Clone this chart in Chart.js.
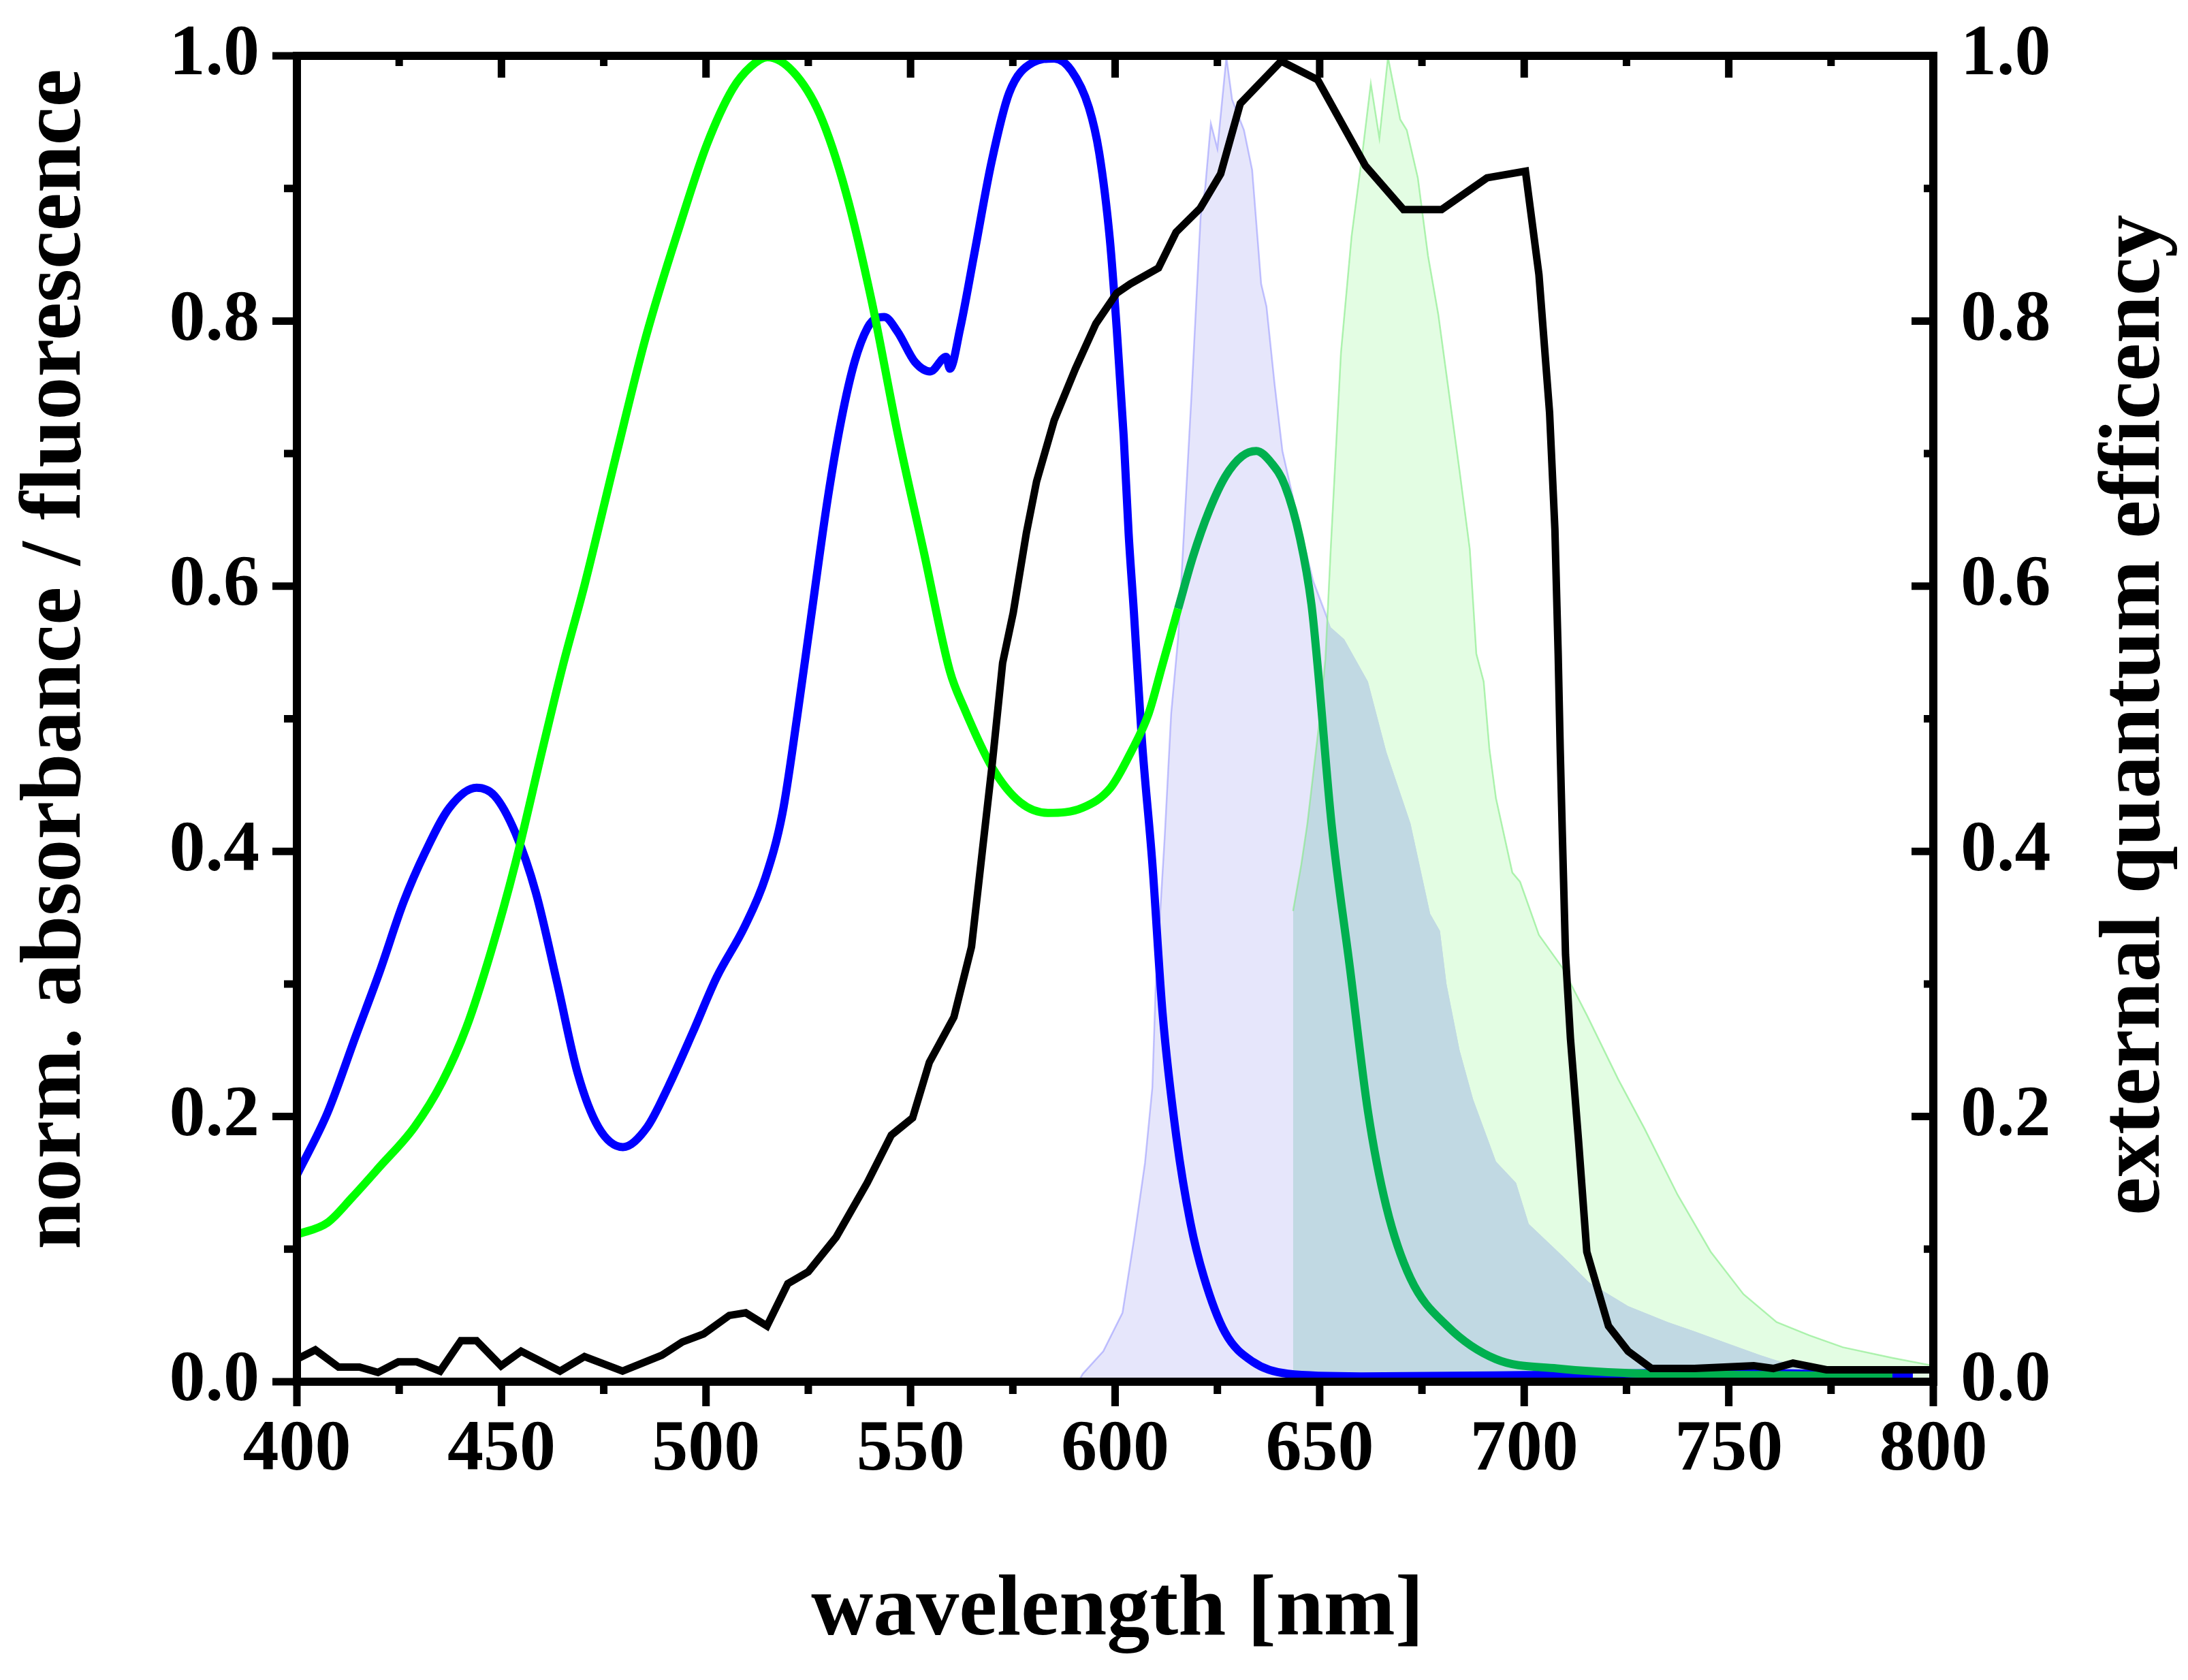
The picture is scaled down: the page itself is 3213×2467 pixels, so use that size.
<!DOCTYPE html>
<html>
<head>
    <meta charset="utf-8">
    <title>Absorbance / fluorescence / EQE</title>
    <script src="https://cdn.jsdelivr.net/npm/chart.js"></script>
    <style>
        html, body { margin: 0; padding: 0; background: #fff; }
        #wrap { width: 3213px; height: 2467px; position: relative; }
    </style>
</head>
<body>
    <div id="wrap"><canvas id="spectra"></canvas></div>
    <script>
        // [wavelength nm, value] pairs
        var eqeBlack = [[400,0.017],[404.5,0.024],[410.2,0.011],[415.3,0.011],[419.8,0.007],[424.8,0.015],[429.3,0.015],[435,0.008],[440.1,0.031],[443.9,0.031],[449.9,0.012],[454.8,0.023],[464.3,0.008],[470.3,0.019],[479.6,0.008],[489.2,0.02],[494.2,0.03],[499.4,0.036],[505.7,0.05],[509.7,0.052],[514.9,0.042],[520,0.074],[525,0.083],[531.8,0.109],[539.4,0.15],[545.3,0.186],[550.5,0.199],[554.6,0.241],[560.6,0.275],[564.9,0.328],[567.5,0.399],[570,0.467],[572.5,0.542],[575.1,0.58],[578.3,0.64],[580.8,0.679],[585.1,0.725],[590.3,0.764],[595.3,0.798],[600.4,0.821],[603.7,0.828],[610.6,0.84],[614.9,0.867],[620.8,0.885],[625.8,0.911],[630.6,0.964],[640.6,0.996],[649.5,0.982],[661.2,0.917],[670.5,0.884],[679.8,0.884],[690.9,0.908],[700.3,0.913],[703.6,0.835],[706.2,0.731],[707.5,0.643],[708.3,0.549],[708.8,0.477],[709.3,0.415],[710.1,0.322],[711.3,0.259],[713.3,0.181],[715.3,0.098],[720.6,0.042],[725.4,0.023],[731.1,0.01],[741.6,0.01],[756.1,0.012],[760.9,0.01],[765.7,0.014],[773.9,0.009],[800,0.009]];

        var absBlue = [[400,0.156],[407.5,0.203],[414.3,0.26],[420.2,0.309],[426.1,0.362],[431.3,0.399],[437.3,0.433],[443.9,0.448],[448.3,0.442],[453.4,0.414],[458.4,0.369],[463.6,0.301],[468.6,0.233],[473.7,0.192],[479.7,0.177],[485.6,0.192],[490.7,0.222],[496.7,0.263],[502.6,0.305],[509.4,0.343],[514.5,0.38],[518.7,0.429],[522.3,0.502],[525.6,0.575],[529.8,0.667],[533.1,0.726],[536.3,0.769],[539.5,0.795],[541.6,0.802],[543.6,0.803],[546.8,0.792],[551.1,0.769],[554.8,0.762],[558.7,0.773],[559.6,0.764],[562.1,0.794],[565.6,0.851],[569.8,0.92],[574.1,0.972],[579.9,0.995],[585.1,0.998],[589.3,0.989],[593.6,0.961],[596.1,0.927],[598.7,0.862],[600.4,0.794],[602.1,0.713],[603.3,0.64],[604.6,0.58],[606.5,0.486],[609.1,0.391],[611.6,0.278],[615,0.184],[618.4,0.12],[621.7,0.079],[626.9,0.037],[633.7,0.015],[642.2,0.006],[660,0.004],[700,0.005],[750,0.007],[770,0.006],[795,0.005]];

        var absGreen = [[400,0.111],[407.5,0.12],[413.5,0.139],[420.2,0.162],[428.7,0.192],[435.5,0.226],[441.4,0.267],[447.4,0.324],[453.4,0.391],[460.1,0.478],[465,0.54],[470.4,0.602],[477.9,0.697],[485.3,0.788],[493.8,0.874],[500.2,0.933],[506.5,0.975],[511,0.992],[515,0.999],[521.3,0.988],[527.8,0.956],[534.2,0.897],[540.5,0.815],[546.8,0.716],[553.3,0.625],[559.6,0.536],[563.1,0.508],[570,0.463],[576.8,0.437],[583.6,0.429],[592.1,0.433],[598.9,0.448],[603.9,0.475],[608.2,0.504],[611.5,0.54],[615.4,0.583]];

        var absGreenDark = [[615.4,0.583],[619,0.622],[623,0.657],[627,0.683],[631,0.698],[634.5,0.702],[638.2,0.693],[641.5,0.676],[645.2,0.636],[648,0.586],[649.5,0.54],[652.9,0.421],[657.4,0.312],[661.8,0.204],[666.3,0.132],[672.2,0.078],[681.2,0.042],[693.1,0.017],[708,0.01],[730,0.006],[760,0.005],[790,0.004]];

        var emBlue = [[591,0],[592.1,0.006],[597.1,0.023],[601.8,0.052],[604.7,0.109],[607.3,0.165],[609.1,0.222],[609.9,0.297],[612.1,0.41],[613.7,0.504],[615.4,0.561],[618.7,0.746],[620.9,0.879],[622,0.9],[623.4,0.949],[625,0.93],[627.2,0.999],[628.6,0.967],[631.5,0.944],[633.5,0.914],[635.7,0.828],[637,0.811],[639,0.752],[640.9,0.702],[644.2,0.657],[648.4,0.604],[652.7,0.569],[656,0.56],[661.8,0.528],[666.3,0.475],[672.2,0.421],[677,0.353],[679.4,0.34],[681,0.3],[684.2,0.25],[687.5,0.213],[693.1,0.166],[698,0.15],[701.1,0.119],[709.3,0.095],[715.8,0.075],[725.4,0.057],[735.1,0.045],[741.6,0.038],[749.6,0.029],[757.7,0.02],[761.7,0.016],[769.7,0.01],[780,0.006],[790,0.003],[800,0.002]];

        var emGreen = [[643.5,0.355],[645.5,0.39],[647,0.421],[650,0.5],[651.4,0.545],[652.7,0.628],[655.2,0.776],[657.8,0.864],[660.3,0.923],[662.5,0.979],[664.6,0.938],[666.7,0.999],[669.7,0.952],[671.3,0.944],[674,0.908],[676.5,0.849],[679,0.805],[681.6,0.746],[684.2,0.687],[686.7,0.628],[688.3,0.549],[690.1,0.528],[691.5,0.477],[693.1,0.44],[697.1,0.384],[699,0.377],[703.6,0.337],[709.4,0.312],[715.4,0.276],[723,0.228],[729.4,0.191],[737.5,0.141],[745.6,0.098],[753.6,0.066],[761.7,0.045],[769.7,0.035],[777.9,0.026],[790,0.018],[800,0.012]];

        var xTickValues = [400, 450, 500, 550, 600, 650, 700, 750, 800];
        var xMinorValues = [425, 475, 525, 575, 625, 675, 725, 775];
        var yTickValues = [0, 0.2, 0.4, 0.6, 0.8, 1.0];
        var yMinorValues = [0.1, 0.3, 0.5, 0.7, 0.9];

        var xTitle = 'wavelength [nm]';
        var yTitle = 'norm. absorbance / fluorescence';
        var y2Title = 'external quantum efficency';

        var FONT = '"Liberation Serif", "Times New Roman", serif';

        function pts(arr) {
            return arr.map(function(p) { return {x: p[0], y: p[1]}; });
        }

        // frame, Origin-style ticks (out on left/bottom, in on top/right) and axis titles
        var framePlugin = {
            id: 'frame',
            afterDraw: function(chart) {
                var ctx = chart.ctx;
                var a = chart.chartArea;
                var sx = chart.scales.x, sy = chart.scales.y;
                ctx.save();
                ctx.strokeStyle = '#000';
                ctx.lineCap = 'butt';
                ctx.lineWidth = 11;
                ctx.beginPath();
                xTickValues.forEach(function(v) {
                    var px = sx.getPixelForValue(v);
                    ctx.moveTo(px, a.bottom); ctx.lineTo(px, a.bottom + 36);
                    ctx.moveTo(px, a.top); ctx.lineTo(px, a.top + 32);
                });
                xMinorValues.forEach(function(v) {
                    var px = sx.getPixelForValue(v);
                    ctx.moveTo(px, a.bottom); ctx.lineTo(px, a.bottom + 18);
                    ctx.moveTo(px, a.top); ctx.lineTo(px, a.top + 15);
                });
                yTickValues.forEach(function(v) {
                    var py = sy.getPixelForValue(v);
                    ctx.moveTo(a.left, py); ctx.lineTo(a.left - 36, py);
                    ctx.moveTo(a.right, py); ctx.lineTo(a.right - 32, py);
                });
                yMinorValues.forEach(function(v) {
                    var py = sy.getPixelForValue(v);
                    ctx.moveTo(a.left, py); ctx.lineTo(a.left - 19, py);
                    ctx.moveTo(a.right, py); ctx.lineTo(a.right - 14, py);
                });
                ctx.stroke();
                ctx.lineJoin = 'miter';
                ctx.lineWidth = 12;
                ctx.strokeRect(a.left, a.top, a.right - a.left, a.bottom - a.top);

                ctx.fillStyle = '#000';
                ctx.font = 'bold 126px ' + FONT;
                ctx.textAlign = 'center';
                ctx.textBaseline = 'middle';
                ctx.fillText(xTitle, 1641, 2367);
                ctx.save();
                ctx.translate(84, 968);
                ctx.rotate(-Math.PI / 2);
                ctx.fillText(yTitle, 0, 0);
                ctx.restore();
                ctx.save();
                ctx.translate(3137, 1050);
                ctx.rotate(-Math.PI / 2);
                ctx.fillText(y2Title, 0, 0);
                ctx.restore();
                ctx.restore();
            }
        };

        function tickLabel(v) { return Number(v).toFixed(1); }

        var ctx = document.getElementById('spectra').getContext('2d');
        var spectraChart = new Chart(ctx, {
            type: 'line',
            data: {
                datasets: [
                    { label: 'EQE', data: pts(eqeBlack), yAxisID: 'y2', borderColor: '#000000', borderWidth: 11, tension: 0, fill: false },
                    { label: 'absorbance green', data: pts(absGreen), yAxisID: 'y', borderColor: '#00ff00', borderWidth: 12, cubicInterpolationMode: 'monotone', fill: false },
                    { label: 'absorbance green (under emission)', data: pts(absGreenDark), yAxisID: 'y', borderColor: '#00b04f', borderWidth: 12, cubicInterpolationMode: 'monotone', fill: false },
                    { label: 'absorbance blue', data: pts(absBlue), yAxisID: 'y', borderColor: '#0000ff', borderWidth: 12, cubicInterpolationMode: 'monotone', fill: false },
                    { label: 'fluorescence green', data: pts(emGreen), yAxisID: 'y', borderColor: 'rgba(120,235,120,0.55)', borderWidth: 2.5, tension: 0,
                      fill: { target: 6, above: '#e3fde3', below: 'rgba(0,0,0,0)' } },
                    { label: 'fluorescence overlap', data: pts(emGreen), yAxisID: 'y', borderColor: 'rgba(0,0,0,0)', borderWidth: 0, tension: 0,
                      fill: 'origin', backgroundColor: '#c1d9e3' },
                    { label: 'fluorescence blue', data: pts(emBlue), yAxisID: 'y', borderColor: 'rgba(110,110,255,0.4)', borderWidth: 2.5, tension: 0,
                      fill: 'origin', backgroundColor: '#e6e6fb' }
                ]
            },
            options: {
                responsive: true,
                maintainAspectRatio: false,
                devicePixelRatio: 1,
                animation: false,
                elements: { point: { radius: 0, hoverRadius: 0 } },
                layout: { padding: { top: 82, left: 0, right: 0, bottom: 0 } },
                plugins: {
                    legend: { display: false },
                    tooltip: { enabled: false }
                },
                scales: {
                    x: {
                        type: 'linear', min: 400, max: 800,
                        grid: { display: false, drawTicks: false },
                        border: { display: false },
                        afterBuildTicks: function(s) { s.ticks = xTickValues.map(function(v) { return {value: v}; }); },
                        afterFit: function(s) { s.height = 438; },
                        ticks: { color: '#000', padding: 38, maxRotation: 0, autoSkip: false,
                                 font: { family: FONT, size: 106, weight: 'bold' },
                                 callback: function(v) { return String(v); } }
                    },
                    y: {
                        position: 'left', min: 0, max: 1,
                        grid: { display: false, drawTicks: true, tickLength: 55 },
                        border: { display: false },
                        afterBuildTicks: function(s) { s.ticks = yTickValues.map(function(v) { return {value: v}; }); },
                        afterFit: function(s) { s.width = 436; },
                        ticks: { color: '#000', padding: 0, autoSkip: false,
                                 font: { family: FONT, size: 106, weight: 'bold' }, callback: tickLabel }
                    },
                    y2: {
                        position: 'right', min: 0, max: 1,
                        grid: { display: false, drawTicks: true, tickLength: 40 },
                        border: { display: false },
                        afterBuildTicks: function(s) { s.ticks = yTickValues.map(function(v) { return {value: v}; }); },
                        afterFit: function(s) { s.width = 374; },
                        ticks: { color: '#000', padding: 0, autoSkip: false,
                                 font: { family: FONT, size: 106, weight: 'bold' }, callback: tickLabel }
                    }
                }
            },
            plugins: [framePlugin]
        });
    </script>
</body>
</html>
